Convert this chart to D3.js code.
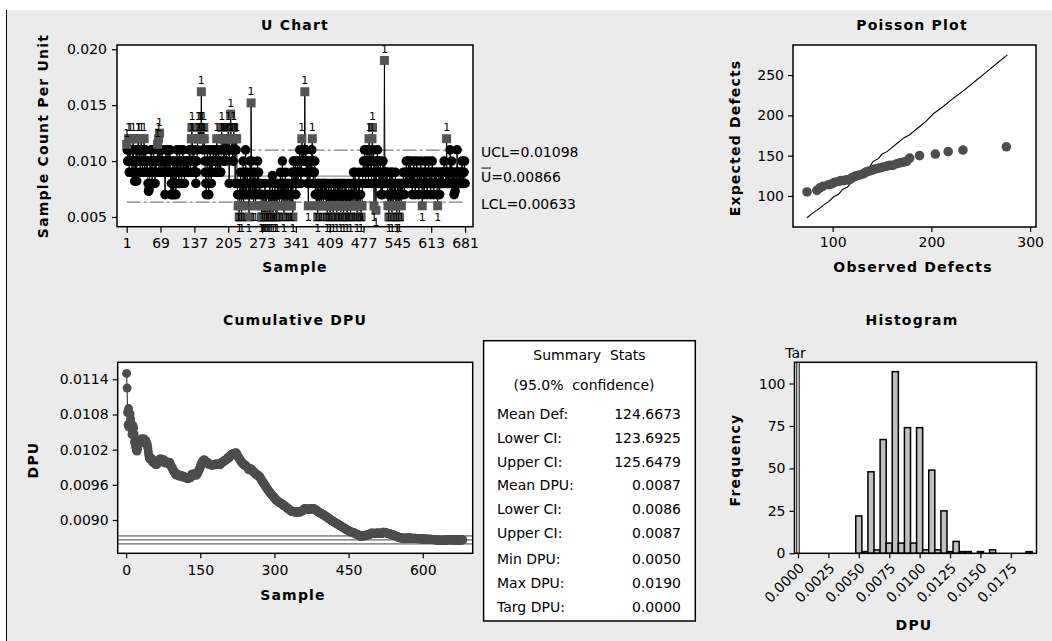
<!DOCTYPE html>
<html>
<head>
<meta charset="utf-8">
<script src="https://cdn.jsdelivr.net/npm/d3@7"></script>
<style>
  body { margin: 0; background: #fff; }
  svg text { font-family: "DejaVu Sans", sans-serif; fill: #000; }
  .bold { font-weight: bold; letter-spacing: 1.2px; }
</style>
</head>
<body>
<div id="chart"></div>
<script>
// U chart: sample count per unit, written per 1000 units (samples 1..681)
const uPerThousand = [
  11.5,11,10,10,12,9,11,12,10,10, 10,9,11,12,10,9,8.2,10,9,11,
  8.2,10,11,12,12,10,11,9,10,12,11,10,9,11,10,12,9,10,11,10,9,10,
  9,8,7.3,7.5,8,10,9,11,10,8,9,10,11,10,9,8,10,9,10,10,
  11.5,10,12,9,12.5,11,10,9,10,11,10,9,10,10,
  10,7,9,11,10,9,10,11,10,9,10,11,9,
  7,8,9,7,10,8,7,9,10,8,7,9,11,9,
  10,9,8,11,10,9,10,8,9,10,11,9,10,8,9,10,9,9,10,9,
  10,9,10,11,10,9,10,12,13,12,10,9,11,10,9,10,8,9,10,11,
  12,13,12,12,13,13,12,16.2,12,13,11,12,13,12,
  10,9,8,7,9,11,10,8,7,9,10,11,9,8,10,9,10,11,10,10,
  10,11,9,10,12,10,9,10,11,9,10,9,9,
  12,13,12,11,12,10,10,12,11,12,10,12,11,12,13,11,8,12,12,14.2,12,11,12,10,10,13,12,11,8,12,11,12,
  8,7,6,6,5,8,7,9,6,5,8,7,10,6,8,9,7,11,8,7,9,8,
  8,7,5,8,10,7,15.2,10,7,8,9,6,7,8,9,6,8,7,8,10,8,9,7,8,8,8,7,
  5,6,5,7,5,6,5,8,5,6,7,5,6,5,6,7,5,8,6,5,7,6,8.7,5,6,7,6,8,5,6,7,5,8,7,
  8,7,6,8,9,7,8,6,10,7,8,5,7,8,9,6,7,8,7,6,8,7,7,6,8,7,6,
  9,7,5,10,9,8,9,10,7,9,8,10,9,8,9,10,11,9,8,9,
  12,11,10,11,10,11,16.2,10,11,9,10,8,10,6,9,10,8,9,10,9,11,12,10,8,9,9,10,
  7,8,6,7,8,5,7,8,6,7,8,7,6,8,7,8,6,7,8,7,8,
  7,6,8,5,7,6,8,7,6,5,7,8,6,7,7,5,8,6,7,8,6,7,5,8,7,6,8,
  6,7,8,5,6,7,8,6,7,5,8,7,6,7,8,6,5,7,6,8,7,6,7,5,8,7,6,
  7,8,9,6,8,9,7,6,8,5,7,6,8,9,7,6,7,5,6,6,
  8,9,10,9,11,10,8,9,10,11,9,10,8,12,10,11,9,10,8,12,13,10,11,6,9,10,8,5.6,9,10,11,9,10,8,
  9,8,10,7,9,8,7,10,9,8,19,9,8,9,9,8,9,6,7,5,8,9,6,8,9,5,9,8,6,7,8,7,9,
  6,7,5,8,7,6,8,5,7,8,7,6,8,7,8,9,8,7,8,9,8,10,8,9,8,9,10,
  8,9,10,8,9,8,7,9,8,10, 9,8,7,8,9,10,8,9,8,7, 8,9,8,10,9,8,6,8,9,8,
  7,9,10,8,9,8,7,8,9,10, 8,9,8,7,9,8,10,9,8,7, 8,9,8,9,
  8,9,7,6,8,9,8,7,9,8, 9,8,8,9,8,9,10,9,9,8, 8,12,8,9,9,8,9,8,11,9,
  8,10,9,8,9,8,7,9,7.3,8, 9,8,11,9,8,9,8,9,8,9, 8,9,10,8,9,8,9,10,8
];
const uSampleTicks = [1, 69, 137, 205, 273, 341, 409, 477, 545, 613, 681];
const uYTicks = [0.005, 0.010, 0.015, 0.020];
const ucl = 0.01098, ubar = 0.00866, lcl = 0.00633;

// Poisson plot
const poissonObserved = [74,84,87,90,96,99,102,106,108,111,114,116,118,120,122,124,127,130,132,134,137,140,142,145,148,151,155,158,161,165,168,172,175,178,188,204,217,232,276];
const poissonExpected = [105,107,110,112,114,115,117,118,119,119,120,120,121,123,124,125,126,127,128,130,131,132,133,134,135,136,137,138,138,140,141,142,143,147,150,152,155,157,161];
const refLineObserved = [74,80,85,90,96,101,106,110,115,120,125,130,136,141,146,150,155,160,166,172,178,186,194,202,212,222,232,244,256,266,277];
const refLineExpected = [73,79,83,88,93,99,102,108,111,118,122,128,133,143,146,152,155,160,166,172,176,184,192,202,211,221,230,242,254,264,275];
const poissonXTicks = [100, 200, 300];
const poissonYTicks = [100, 150, 200, 250];

// Cumulative DPU
const cumXTicks = [0, 150, 300, 450, 600];
const cumYTicks = [0.0090, 0.0096, 0.0102, 0.0108, 0.0114];
const dpuLowerCI = 0.008592, dpuUpperCI = 0.008728;

// Summary stats
const statLabels = ["Mean Def:", "Lower CI:", "Upper CI:", "Mean DPU:", "Lower CI:", "Upper CI:", "Min DPU:", "Max DPU:", "Targ DPU:"];
const statValues = ["124.6673", "123.6925", "125.6479", "0.0087", "0.0086", "0.0087", "0.0050", "0.0190", "0.0000"];

// Histogram of DPU (bin centres, width 0.0005)
const histDpu = [0.0050,0.0055,0.0060,0.0065,0.0070,0.0075,0.0080,0.0085,0.0090,0.0095,0.0100,0.0105,0.0110,0.0115,0.0120,0.0125,0.0130,0.0135,0.0140,0.0145,0.0150,0.0155,0.0160,0.0165,0.0170,0.0175,0.0180,0.0185,0.0190];
const histCounts = [22,1,48,2,67,6,107,6,74,6,74,2,49,2,25,1,7,1,1,0,1,0,2,0,0,0,0,0,1];
const histXTicks = [0, 0.0025, 0.0050, 0.0075, 0.0100, 0.0125, 0.0150, 0.0175];
const histYTicks = [0, 25, 50, 75, 100];
const targetDpu = 0;

const W = 1052, H = 641;
const svg = d3.select("#chart").append("svg").attr("width", W).attr("height", H);

svg.append("rect").attr("x", 7).attr("y", 10).attr("width", W - 7).attr("height", H - 10).attr("fill", "#ebebeb");
svg.append("line").attr("x1", 6.5).attr("x2", 6.5).attr("y1", 10).attr("y2", H).attr("stroke", "#000");

function frame(x0, x1, y0, y1) {
    svg.append("rect").attr("x", x0).attr("y", y0).attr("width", x1 - x0).attr("height", y1 - y0)
        .attr("fill", "#fff");
}
function border(x0, x1, y0, y1) {
    svg.append("rect").attr("x", x0).attr("y", y0).attr("width", x1 - x0).attr("height", y1 - y0)
        .attr("fill", "none").attr("stroke", "#000").attr("stroke-width", 1.5);
}
function styleAxis(g) {
    g.select(".domain").remove();
    g.selectAll(".tick line").attr("stroke", "#000").attr("stroke-width", 1.2);
    g.selectAll("text").attr("font-size", 14).attr("font-family", "DejaVu Sans").attr("fill", "#000");
}
function title(text, x, y) {
    svg.append("text").attr("class", "bold").attr("x", x).attr("y", y)
        .attr("text-anchor", "middle").attr("dominant-baseline", "central")
        .attr("font-size", 14).text(text);
}
function yTitle(text, x, y) {
    svg.append("text").attr("class", "bold")
        .attr("transform", `translate(${x},${y}) rotate(-90)`)
        .attr("text-anchor", "middle").attr("dominant-baseline", "central")
        .attr("font-size", 14).text(text);
}

// ---------- U chart ----------
const uData = uPerThousand.map((v, i) => ({sample: i + 1, u: v / 1000}));
// values are rounded to 0.001, so the 0.011 row sits on the UCL and stays in control
const isOut = d => d.u > ucl + 0.00005 || d.u < lcl;

const ux = d3.scaleLinear().domain([-18.5, 697]).range([117, 473]);
const uy = d3.scaleLinear().domain([0.00413, 0.02038]).range([226.7, 45]);
frame(117, 473, 45, 226.7);

[[ucl, "14,3,3,3", "#808080"], [ubar, null, "#909090"], [lcl, "14,3,3,3", "#808080"]].forEach(([v, dash, c]) => {
    svg.append("line").attr("x1", ux(1)).attr("x2", ux(681)).attr("y1", uy(v)).attr("y2", uy(v))
        .attr("stroke", c).attr("stroke-width", 1.3).attr("stroke-dasharray", dash);
});

svg.append("path").datum(uData)
    .attr("d", d3.line().x(d => ux(d.sample)).y(d => uy(d.u)))
    .attr("fill", "none").attr("stroke", "#000").attr("stroke-width", 1);

svg.append("g").selectAll("circle").data(uData.filter(d => !isOut(d))).join("circle")
    .attr("cx", d => ux(d.sample)).attr("cy", d => uy(d.u)).attr("r", 4.8).attr("fill", "#000");

svg.append("g").selectAll("rect").data(uData.filter(isOut)).join("rect")
    .attr("x", d => ux(d.sample) - 4.5).attr("y", d => uy(d.u) - 4.5)
    .attr("width", 9).attr("height", 9).attr("fill", "#555");

svg.append("g").selectAll("text").data(uData.filter(isOut)).join("text")
    .attr("x", d => ux(d.sample)).attr("y", d => d.u > ucl ? uy(d.u) - 11 : uy(d.u) + 12)
    .attr("text-anchor", "middle").attr("dominant-baseline", "central")
    .attr("font-size", 11).attr("fill", "#000").text("1");

border(117, 473, 45, 226.7);
svg.append("g").attr("transform", "translate(117,0)")
    .call(d3.axisLeft(uy).tickValues(uYTicks).tickFormat(d3.format(".3f")).tickSize(5).tickPadding(5))
    .call(styleAxis);
svg.append("g").attr("transform", "translate(0,226.7)")
    .call(d3.axisBottom(ux).tickValues(uSampleTicks).tickSize(6).tickPadding(5))
    .call(styleAxis);

title("U Chart", 295, 25);
yTitle("Sample Count Per Unit", 43, 136);
title("Sample", 295, 267);

const lab = svg.append("g").attr("font-size", 14);
lab.append("text").attr("x", 481).attr("y", uy(ucl) + 2).attr("dominant-baseline", "central").text("UCL=0.01098");
lab.append("text").attr("x", 481).attr("y", uy(ubar) + 1).attr("dominant-baseline", "central").text("U=0.00866");
lab.append("line").attr("x1", 481.5).attr("x2", 491).attr("y1", uy(ubar) - 8).attr("y2", uy(ubar) - 8)
    .attr("stroke", "#000").attr("stroke-width", 1);
lab.append("text").attr("x", 481).attr("y", uy(lcl) + 2).attr("dominant-baseline", "central").text("LCL=0.00633");

// ---------- Poisson plot ----------
const px = d3.scaleLinear().domain([59.8, 306]).range([793, 1036]);
const py = d3.scaleLinear().domain([61.5, 287.3]).range([227, 45]);
frame(793, 1036, 45, 227);
svg.append("path").datum(d3.zip(refLineObserved, refLineExpected))
    .attr("d", d3.line().x(d => px(d[0])).y(d => py(d[1])))
    .attr("fill", "none").attr("stroke", "#000").attr("stroke-width", 1.1);
svg.append("g").selectAll("circle").data(d3.zip(poissonObserved, poissonExpected)).join("circle")
    .attr("cx", d => px(d[0])).attr("cy", d => py(d[1])).attr("r", 4.8).attr("fill", "#4d4d4d");
border(793, 1036, 45, 227);
svg.append("g").attr("transform", "translate(793,0)")
    .call(d3.axisLeft(py).tickValues(poissonYTicks).tickSize(5).tickPadding(4)).call(styleAxis);
svg.append("g").attr("transform", "translate(0,227)")
    .call(d3.axisBottom(px).tickValues(poissonXTicks).tickSize(5).tickPadding(5)).call(styleAxis);
title("Poisson Plot", 912, 25);
yTitle("Expected Defects", 735, 138);
title("Observed Defects", 913, 267);

// ---------- Cumulative DPU ----------
let running = 0;
const cumData = uData.map((d, i) => { running += d.u; return {sample: d.sample, dpu: running / (i + 1)}; });
const cx = d3.scaleLinear().domain([-17, 701]).range([117.7, 472.7]);
const cy = d3.scaleLinear().domain([0.008432, 0.01169]).range([553.3, 362.3]);
frame(117.7, 472.7, 362.3, 553.3);
[dpuUpperCI, ubar, dpuLowerCI].forEach(v => {
    svg.append("line").attr("x1", 117.7).attr("x2", 472.7).attr("y1", cy(v)).attr("y2", cy(v))
        .attr("stroke", "#444").attr("stroke-width", 1);
});
svg.append("path").datum(cumData)
    .attr("d", d3.line().x(d => cx(d.sample)).y(d => cy(d.dpu)))
    .attr("fill", "none").attr("stroke", "#222").attr("stroke-width", 1);
svg.append("g").selectAll("circle").data(cumData).join("circle")
    .attr("cx", d => cx(d.sample)).attr("cy", d => cy(d.dpu)).attr("r", 4.5).attr("fill", "#4d4d4d");
border(117.7, 472.7, 362.3, 553.3);
svg.append("g").attr("transform", "translate(117.7,0)")
    .call(d3.axisLeft(cy).tickValues(cumYTicks).tickFormat(d3.format(".4f")).tickSize(5).tickPadding(4))
    .call(styleAxis);
svg.append("g").attr("transform", "translate(0,553.3)")
    .call(d3.axisBottom(cx).tickValues(cumXTicks).tickSize(5).tickPadding(7))
    .call(styleAxis);
title("Cumulative DPU", 295, 320);
yTitle("DPU", 33, 460);
title("Sample", 293, 595);

// ---------- Summary stats ----------
svg.append("rect").attr("x", 483.6).attr("y", 340.7).attr("width", 211.7).attr("height", 280.3)
    .attr("fill", "#fff").attr("stroke", "#000").attr("stroke-width", 1.5);
const st = svg.append("g").attr("font-size", 14);
st.append("text").attr("x", 589.5).attr("y", 355).attr("text-anchor", "middle")
    .attr("dominant-baseline", "central").attr("xml:space", "preserve").text("Summary  Stats");
st.append("text").attr("x", 584).attr("y", 385).attr("text-anchor", "middle")
    .attr("dominant-baseline", "central").attr("xml:space", "preserve").text("(95.0%  confidence)");
statLabels.forEach((t, i) => {
    const y = 414 + i * 23.8 + (i >= 6 ? 2.5 : 0);
    st.append("text").attr("x", 497).attr("y", y).attr("dominant-baseline", "central").text(t);
    st.append("text").attr("x", 681).attr("y", y).attr("text-anchor", "end")
        .attr("dominant-baseline", "central").text(statValues[i]);
});

// ---------- Histogram ----------
const hx = d3.scaleLinear().domain([-0.000288, 0.01961]).range([794.5, 1036.5]);
const hy = d3.scaleLinear().domain([0, 112.5]).range([553.3, 362.3]);
frame(794.5, 1036.5, 362.3, 553.3);
svg.append("g").selectAll("rect").data(d3.zip(histDpu, histCounts)).join("rect")
    .attr("x", d => hx(d[0] - 0.00025)).attr("width", d => hx(d[0] + 0.00025) - hx(d[0] - 0.00025))
    .attr("y", d => hy(d[1])).attr("height", d => hy(0) - hy(d[1]))
    .attr("fill", "#c0c0c0").attr("stroke", "#000").attr("stroke-width", 1.5);
[-1.2, 1.2].forEach(o => {
    svg.append("line").attr("x1", hx(targetDpu) + o).attr("x2", hx(targetDpu) + o)
        .attr("y1", 362.3).attr("y2", 553.3).attr("stroke", "#000").attr("stroke-width", 1);
});
border(794.5, 1036.5, 362.3, 553.3);
svg.append("g").attr("transform", "translate(794.5,0)")
    .call(d3.axisLeft(hy).tickValues(histYTicks).tickSize(5).tickPadding(4)).call(styleAxis);
const hxAxis = svg.append("g").attr("transform", "translate(0,553.3)")
    .call(d3.axisBottom(hx).tickValues(histXTicks).tickFormat(d3.format(".4f")).tickSize(5))
    .call(styleAxis);
hxAxis.selectAll("text").attr("text-anchor", "end").attr("dy", null)
    .attr("dominant-baseline", "central")
    .attr("transform", "translate(3,12) rotate(-45)").attr("x", 0).attr("y", 0);
svg.append("text").attr("x", 795.6).attr("y", 353).attr("text-anchor", "middle")
    .attr("dominant-baseline", "central").attr("font-size", 14).text("Tar");
title("Histogram", 912, 320);
yTitle("Frequency", 735, 460);
title("DPU", 914, 625);
</script>
</body>
</html>
